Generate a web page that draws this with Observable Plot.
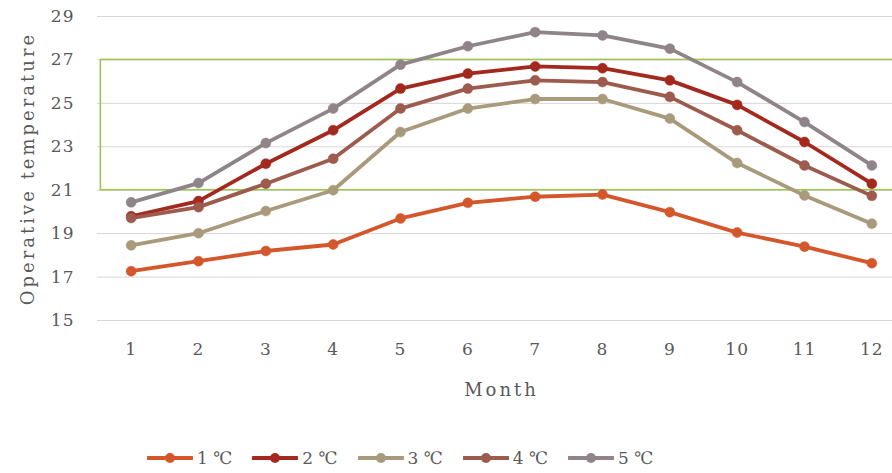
<!DOCTYPE html>
<html>
<head>
<meta charset="utf-8">
<script src="https://cdn.jsdelivr.net/npm/d3@7"></script>
<script src="https://cdn.jsdelivr.net/npm/@observablehq/plot@0.6"></script>
<style>
  html, body { margin: 0; padding: 0; background: #fff; overflow: hidden; }
  #chart { width: 892px; height: 473px; position: relative; }
  #legend {
    position: absolute; left: 147px; top: 448px;
    display: flex; align-items: center; gap: 0;
    font-family: "DejaVu Serif", serif; font-size: 17px; color: #595959;
  }
  #legend .item { display: flex; align-items: center; margin-right: 20px; }
  #legend svg { display: block; margin-right: 4px; }
</style>
</head>
<body>
<div id="chart"></div>
<script>
// Monthly operative temperature for five set-point offsets
const months = [1, 2, 3, 4, 5, 6, 7, 8, 9, 10, 11, 12];
const seriesNames = ["1 ℃", "2 ℃", "3 ℃", "4 ℃", "5 ℃"];
const seriesColors = ["#d4572c", "#a3291f", "#a89a7b", "#9c5b4d", "#8e8489"];
const temp1 = [17.27, 17.73, 18.2, 18.5, 19.7, 20.42, 20.7, 20.8, 19.99, 19.05, 18.4, 17.64];
const temp2 = [19.8, 20.5, 22.22, 23.76, 25.68, 26.37, 26.7, 26.62, 26.06, 24.93, 23.22, 21.3];
const temp3 = [18.46, 19.02, 20.04, 21.0, 23.68, 24.76, 25.2, 25.2, 24.3, 22.25, 20.76, 19.46];
const temp4 = [19.72, 20.22, 21.3, 22.45, 24.76, 25.68, 26.06, 25.98, 25.3, 23.76, 22.14, 20.74];
const temp5 = [20.44, 21.33, 23.17, 24.76, 26.78, 27.63, 28.28, 28.13, 27.52, 25.98, 24.14, 22.14];
const yTicks = [15, 17, 19, 21, 23, 25, 27, 29];
const comfortBand = {low: 21, high: 27};

const allSeries = [temp1, temp2, temp3, temp4, temp5];
const rows = allSeries.flatMap((vals, i) =>
  vals.map((v, j) => ({month: months[j], temp: v, series: seriesNames[i]})));

const font = "DejaVu Serif, serif";

const chart = Plot.plot({
  width: 892,
  height: 420,
  marginTop: 16,
  marginBottom: 100,
  marginLeft: 97,
  marginRight: 0,
  style: {fontFamily: font, fontSize: "17px", color: "#595959", background: "transparent"},
  x: {domain: [0.5, 12.5], range: [97, 905], label: null},
  y: {domain: [15, 29], label: null, axis: null},
  color: {domain: seriesNames, range: seriesColors},
  marks: [
    Plot.ruleY(yTicks, {x1: 0.5, x2: 12.5, stroke: "#d6d6d6", strokeWidth: 1}),
    Plot.rect([comfortBand], {x1: 0.55, x2: 12.5, y1: "low", y2: "high",
      fill: "none", stroke: "#a0c453", strokeWidth: 1.6}),
    // y tick labels, right-aligned a little left of the gridlines
    Plot.text(yTicks, {y: (d) => d, frameAnchor: "left", textAnchor: "end",
      dx: -23, fontSize: 17, fill: "#595959"}),
    Plot.axisX({ticks: months, tickSize: 0, tickPadding: 22}),
    Plot.text(["Month"], {frameAnchor: "bottom", x: () => 6.5, dy: 75,
      lineAnchor: "bottom", fontSize: 18}),
    Plot.text(["Operative temperature"], {frameAnchor: "left", dx: -69,
      textAnchor: "middle", rotate: -90, fontSize: 18}),
    Plot.line(rows, {x: "month", y: "temp", z: "series", stroke: "series",
      strokeWidth: 3.8, strokeLinejoin: "round", strokeLinecap: "round"}),
    Plot.dot(rows, {x: "month", y: "temp", fill: "series", r: 5,
      stroke: "series", strokeWidth: 0.5})
  ]
});

// The serif used here is a little wider-set; open up the titles and tick labels
d3.select(chart).selectAll('g[aria-label="text"] text').each(function () {
  const t = this.textContent;
  d3.select(this).attr("letter-spacing", /^\d+$/.test(t) ? "1px" : "3px");
});
d3.select(chart).selectAll('g[aria-label$="tick label"] text').attr("letter-spacing", "1px");

const root = document.getElementById("chart");
root.appendChild(chart);

// Legend below the plot: line swatch with marker, then series name
const legend = d3.select(root).append("div").attr("id", "legend");
seriesNames.forEach((name, i) => {
  const item = legend.append("div").attr("class", "item");
  const sw = item.append("svg").attr("width", 46).attr("height", 14);
  sw.append("line").attr("x1", 1).attr("x2", 45).attr("y1", 7).attr("y2", 7)
    .attr("stroke", seriesColors[i]).attr("stroke-width", 4).attr("stroke-linecap", "round");
  sw.append("circle").attr("cx", 23).attr("cy", 7).attr("r", 5).attr("fill", seriesColors[i]);
  item.append("span").text(name);
});
</script>
</body>
</html>
